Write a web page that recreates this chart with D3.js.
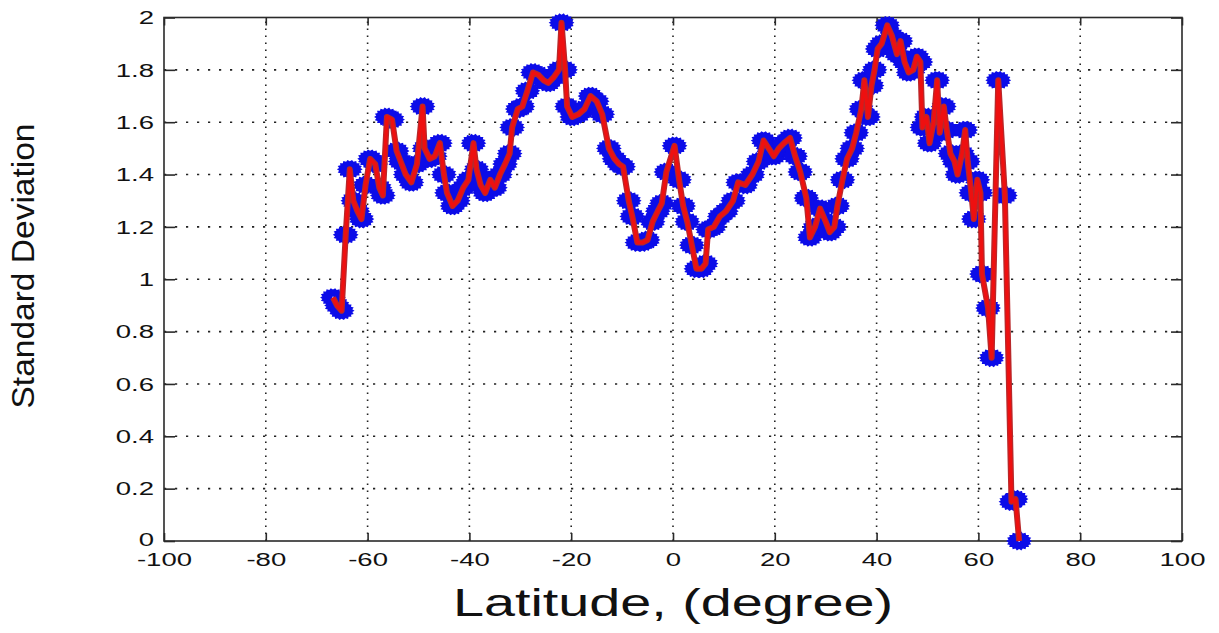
<!DOCTYPE html>
<html><head><meta charset="utf-8">
<script src="https://cdn.jsdelivr.net/npm/d3@7"></script>
<style>html,body{margin:0;padding:0;background:#fff;}svg{display:block;}</style>
</head><body>
<script>
const latitude = [-66.8,-66.0,-65.1,-64.3,-63.5,-62.8,-62.0,-61.2,-60.4,-59.5,-58.5,-57.7,-57.0,-56.2,-55.2,-54.3,-53.5,-52.5,-51.4,-50.3,-49.2,-48.8,-47.8,-46.8,-45.8,-45.0,-44.4,-43.3,-42.3,-41.2,-40.2,-39.2,-38.6,-37.8,-36.9,-35.9,-35.0,-34.0,-33.0,-32.1,-31.6,-30.5,-29.6,-28.6,-27.5,-26.4,-25.4,-24.5,-23.5,-22.4,-21.9,-21.2,-20.8,-19.8,-18.6,-17.4,-16.2,-15.0,-13.9,-12.6,-11.5,-10.6,-9.8,-8.7,-8.0,-7.0,-6.0,-5.0,-4.0,-3.0,-2.2,-1.3,0.3,1.2,2.0,2.8,3.7,4.6,5.6,6.4,6.9,8.0,9.2,10.4,11.8,12.8,14.2,15.6,16.8,17.8,18.8,19.8,20.8,21.8,23.0,24.0,25.0,26.2,26.9,27.9,28.9,30.0,30.8,31.7,32.3,33.3,34.2,35.2,36.0,37.0,37.6,38.3,39.0,39.6,40.2,41.0,42.1,43.0,44.0,44.7,45.5,46.3,47.2,47.9,48.6,49.0,49.8,50.4,51.2,51.9,52.4,53.2,53.8,54.5,55.3,55.9,56.8,57.4,57.9,58.6,59.1,59.8,60.4,60.7,61.9,62.6,63.9,65.2,66.5,67.3,68.0];
const stdDev = [0.93,0.90,0.88,1.17,1.42,1.30,1.26,1.23,1.36,1.46,1.44,1.35,1.32,1.62,1.61,1.49,1.45,1.40,1.37,1.44,1.66,1.50,1.46,1.47,1.52,1.40,1.33,1.28,1.30,1.35,1.38,1.52,1.42,1.36,1.33,1.38,1.35,1.40,1.44,1.48,1.58,1.65,1.66,1.72,1.79,1.78,1.76,1.75,1.77,1.80,1.98,1.80,1.66,1.62,1.63,1.65,1.70,1.68,1.63,1.50,1.46,1.44,1.43,1.30,1.24,1.14,1.14,1.15,1.22,1.26,1.29,1.41,1.51,1.38,1.28,1.22,1.13,1.04,1.04,1.06,1.19,1.20,1.24,1.26,1.30,1.37,1.36,1.40,1.45,1.53,1.50,1.47,1.50,1.52,1.54,1.47,1.41,1.31,1.16,1.20,1.27,1.22,1.18,1.20,1.28,1.38,1.46,1.50,1.56,1.65,1.76,1.62,1.74,1.80,1.88,1.90,1.97,1.93,1.86,1.91,1.83,1.79,1.80,1.85,1.83,1.58,1.62,1.52,1.60,1.76,1.56,1.66,1.57,1.48,1.45,1.40,1.48,1.57,1.45,1.33,1.23,1.38,1.33,1.02,0.89,0.70,1.76,1.32,0.15,0.16,0.00];
const xTicks = [-100,-80,-60,-40,-20,0,20,40,60,80,100];
const yTicks = [0,0.2,0.4,0.6,0.8,1,1.2,1.4,1.6,1.8,2];
const xTickLabels = ["-100","-80","-60","-40","-20","0","20","40","60","80","100"];
const yTickLabels = ["0","0.2","0.4","0.6","0.8","1","1.2","1.4","1.6","1.8","2"];
const xTitle = "Latitude, (degree)";
const yTitle = "Standard Deviation";

const W = 1219, H = 633;
const L = 164, R = 1182, T = 17.5, B = 541;
const FONT = "'Liberation Sans', Arial, sans-serif";
const SX = 1.45;

const svg = d3.select("body").append("svg").attr("width", W).attr("height", H);
const x = d3.scaleLinear().domain([-100, 100]).range([L, R]);
const y = d3.scaleLinear().domain([0, 2]).range([B, T]);
const data = latitude.map((d, i) => ({lat: d, v: stdDev[i]}));

// grid
const grid = svg.append("g");
grid.selectAll("line.vg").data(xTicks.slice(1, -1)).join("line")
  .attr("x1", d => x(d)).attr("x2", d => x(d)).attr("y1", B).attr("y2", T)
  .attr("stroke", "#222").attr("stroke-width", 1.6).attr("stroke-dasharray", "1.6,5.4");
grid.selectAll("line.hg").data(yTicks.slice(1, -1)).join("line")
  .attr("x1", L).attr("x2", R).attr("y1", d => y(d)).attr("y2", d => y(d))
  .attr("stroke", "#222").attr("stroke-width", 1.6).attr("stroke-dasharray", "2.2,8.8");

// axes
const fmtX = (d, i) => xTickLabels[i];
const fmtY = (d, i) => yTickLabels[i];
const gx = svg.append("g").attr("transform", `translate(0,${B})`)
  .call(d3.axisBottom(x).tickValues(xTicks).tickFormat(fmtX).tickSizeInner(-8).tickSizeOuter(0));
const gxt = svg.append("g").attr("transform", `translate(0,${T})`)
  .call(d3.axisTop(x).tickValues(xTicks).tickFormat("").tickSizeInner(-8).tickSizeOuter(0));
const gy = svg.append("g").attr("transform", `translate(${L},0)`)
  .call(d3.axisLeft(y).tickValues(yTicks).tickFormat(fmtY).tickSizeInner(-11).tickSizeOuter(0));
const gyr = svg.append("g").attr("transform", `translate(${R},0)`)
  .call(d3.axisRight(y).tickValues(yTicks).tickFormat("").tickSizeInner(-11).tickSizeOuter(0));
[gx, gxt, gy, gyr].forEach(g => {
  g.select(".domain").remove();
  g.selectAll(".tick line").attr("stroke", "#2a2a2a").attr("stroke-width", 1.6);
});
gx.selectAll(".tick text")
  .attr("y", 0).attr("dy", null)
  .attr("transform", `translate(0,25) scale(${SX},1)`)
  .attr("font-family", FONT).attr("font-size", 19).attr("fill", "#111");
gy.selectAll(".tick text")
  .attr("x", 0).attr("dy", "0.33em")
  .attr("transform", (d) => d === 0 ? `translate(-10,-2) scale(${SX},1)` : `translate(-10,0) scale(${SX},1)`)
  .attr("font-family", FONT).attr("font-size", 19).attr("fill", "#111");

// frame
svg.append("rect").attr("x", L).attr("y", T).attr("width", R - L).attr("height", B - T)
  .attr("fill", "none").attr("stroke", "#2a2a2a").attr("stroke-width", 1.6);

// markers
function markerPath(cx, cy) {
  const n = 18, rx = 11.5, ry = 8.5;
  let p = "";
  for (let k = 0; k < 2 * n; k++) {
    const a = Math.PI * k / n;
    const f = (k % 2 === 0) ? 1.12 : 0.94;
    p += (k === 0 ? "M" : "L") + (cx + Math.cos(a) * rx * f).toFixed(2) + "," + (cy + Math.sin(a) * ry * f).toFixed(2);
  }
  return p + "Z";
}
svg.append("g").selectAll("path").data(data).join("path")
  .attr("d", d => markerPath(x(d.lat), y(d.v)))
  .attr("fill", "#0c0ce8");
svg.append("g").selectAll("circle").data(data).join("circle")
  .attr("cx", d => x(d.lat)).attr("cy", d => y(d.v)).attr("r", 1)
  .attr("fill", "#c8c8ff");

// red line
const line = d3.line().x(d => x(d.lat)).y(d => y(d.v));
svg.append("path").datum(data).attr("d", line)
  .attr("fill", "none").attr("stroke", "#b8282a").attr("stroke-width", 6).attr("stroke-linejoin", "round");
svg.append("path").datum(data).attr("d", line)
  .attr("fill", "none").attr("stroke", "#ee1010").attr("stroke-width", 3.4).attr("stroke-linejoin", "round");

// titles
svg.append("text").attr("x", (L + R) / 2).attr("y", 616)
  .attr("text-anchor", "middle").attr("font-family", FONT).attr("font-size", 38).attr("fill", "#111")
  .attr("textLength", 440).attr("lengthAdjust", "spacingAndGlyphs").text(xTitle);
svg.append("text").attr("transform", "translate(34,266) rotate(-90)")
  .attr("text-anchor", "middle").attr("font-family", FONT).attr("font-size", 32).attr("fill", "#111")
  .attr("textLength", 285).attr("lengthAdjust", "spacingAndGlyphs").text(yTitle);
</script>
</body></html>
